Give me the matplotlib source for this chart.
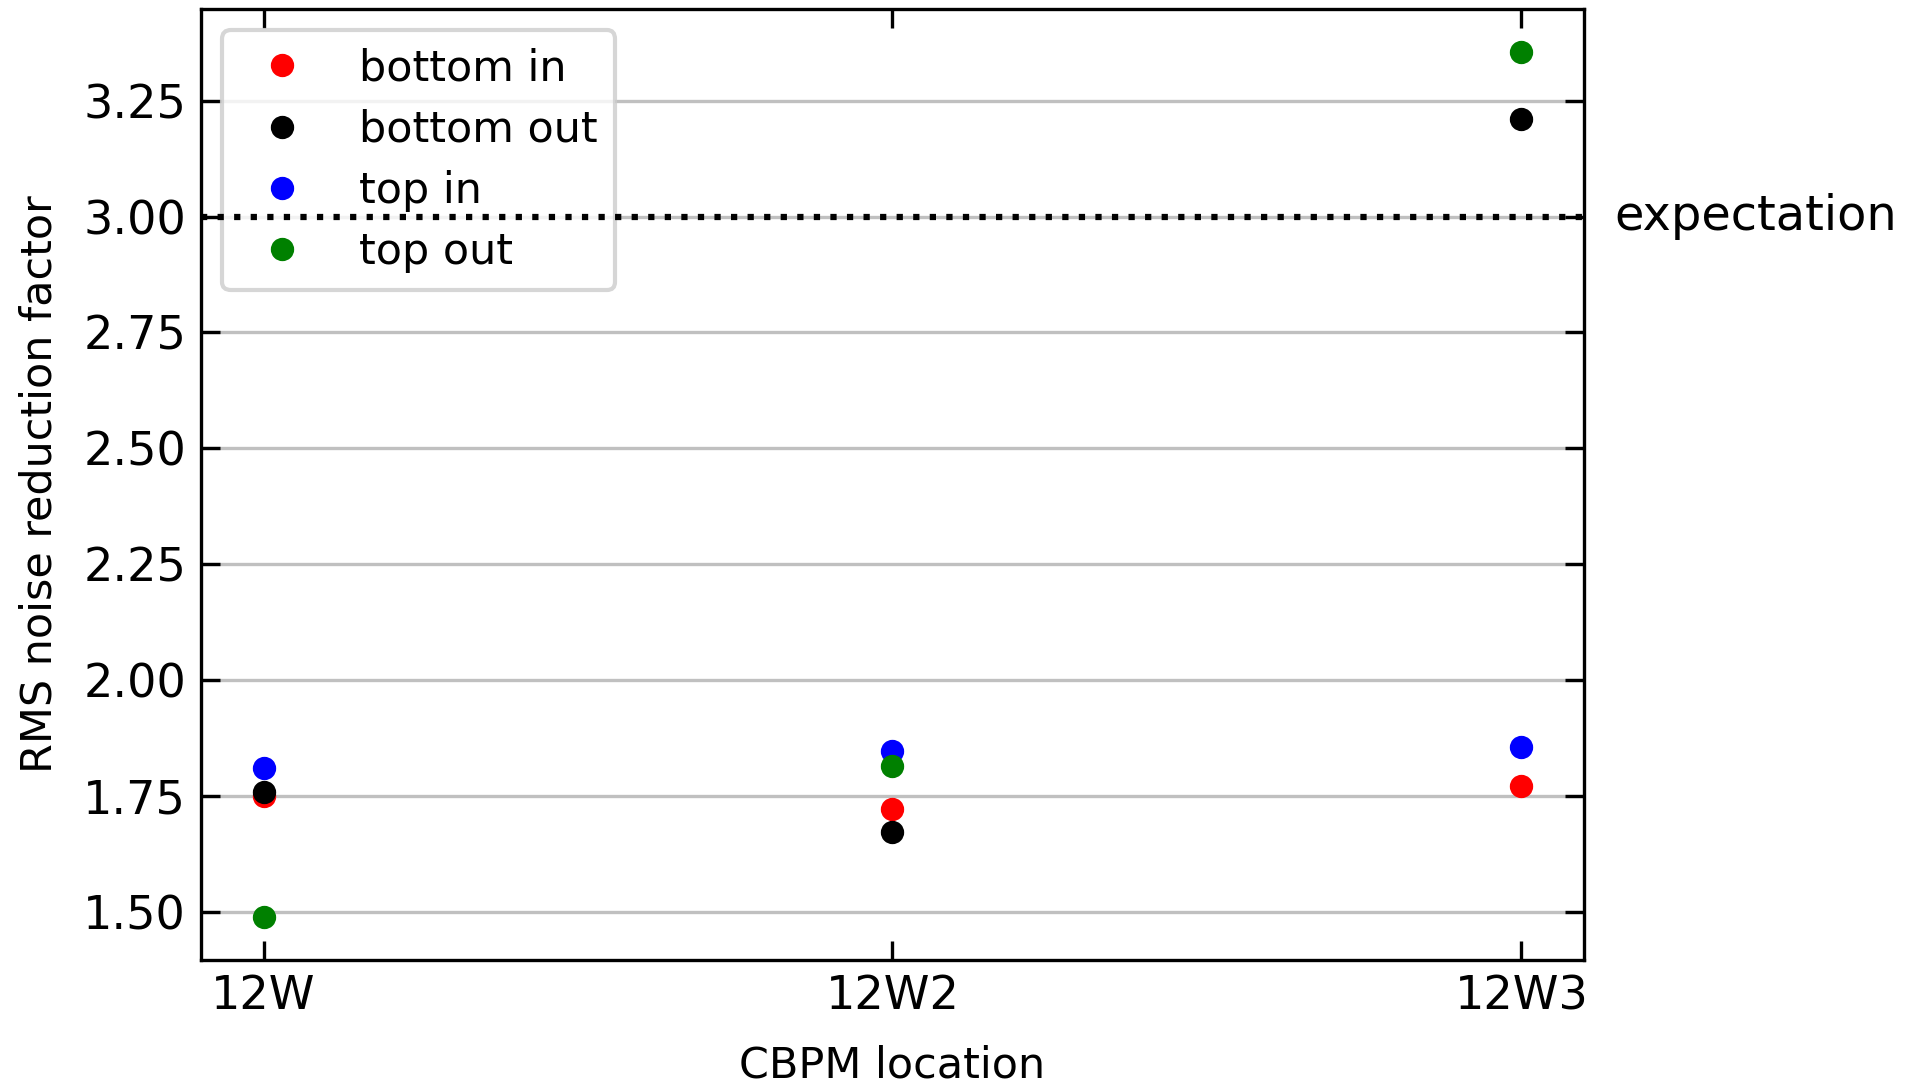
import matplotlib
matplotlib.use("Agg")
import matplotlib.pyplot as plt
import matplotlib.transforms as mtransforms

locations = ["12W", "12W2", "12W3"]
bottom_in = [1.75, 1.721, 1.771]
bottom_out = [1.758, 1.673, 3.211]
top_in = [1.810, 1.847, 1.855]
top_out = [1.490, 1.815, 3.355]
expectation = 3.0


def main():
    fig, ax = plt.subplots(figsize=(1911 / 300, 1087 / 300), dpi=300)
    fig.subplots_adjust(left=0.105, right=0.829, top=0.992, bottom=0.117)

    x = range(len(locations))
    ms = 4.6
    ax.plot(x, bottom_in, 'o', color='red', ms=ms, label='bottom in')
    ax.plot(x, bottom_out, 'o', color='black', ms=ms, label='bottom out')
    ax.plot(x, top_in, 'o', color='blue', ms=ms, label='top in')
    ax.plot(x, top_out, 'o', color='green', ms=ms, label='top out')

    ax.set_xticks(list(x))
    ax.set_xticklabels(locations)
    ax.yaxis.grid(True, color='#c0c0c0')
    ax.set_axisbelow(True)
    ax.tick_params(direction='in', top=True, right=True, length=4.5, labelsize=11.1)

    ax.set_xlabel('CBPM location', fontsize=10.3, labelpad=6)
    ax.set_ylabel('RMS noise reduction factor', fontsize=10.3, labelpad=5.5)
    ax.legend(loc='upper left', fontsize=10.3, labelspacing=0.45)

    # expectation marker, drawn over the legend
    ax.axhline(y=expectation, linestyle=':', color='black', lw=1.5, zorder=6)
    trans = mtransforms.blended_transform_factory(ax.transAxes, ax.transData)
    ax.text(1.022, expectation, 'expectation', transform=trans, va='center', ha='left',
            fontsize=11.5)

    fig.savefig('out.png', dpi=300)


if __name__ == "__main__":
    main()
